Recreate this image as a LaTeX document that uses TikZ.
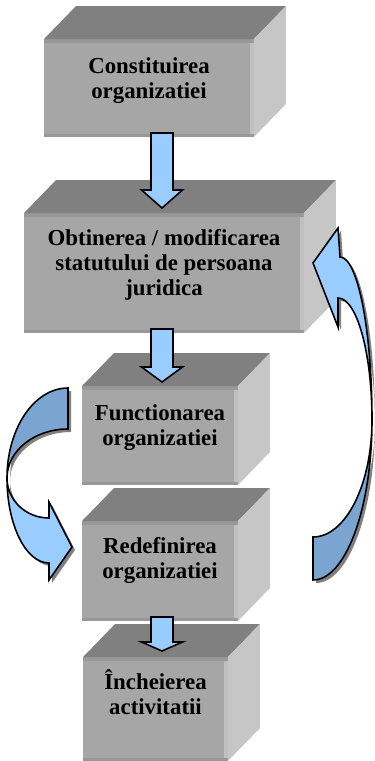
\documentclass[tikz,border=0pt]{standalone}
\usepackage{fontspec}
\setmainfont{Liberation Serif}
\usetikzlibrary{calc}

\definecolor{gsus}{RGB}{128,128,128}
\definecolor{gfata}{RGB}{166,166,166}
\definecolor{glateral}{RGB}{198,198,198}
\definecolor{gmargine}{RGB}{152,152,152}
\definecolor{gluciu}{RGB}{192,192,192}
\definecolor{albastru}{RGB}{153,204,255}
\definecolor{albastruinchis}{RGB}{122,165,208}
\definecolor{gumbra}{RGB}{128,128,128}

\tikzset{
  fata/.style={rectangle, inner sep=0pt, outer sep=0pt, fill=gfata,
    path picture={
      \fill[gmargine] (path picture bounding box.north west) rectangle ([yshift=-0.08cm]path picture bounding box.north east);
      \fill[gmargine] (path picture bounding box.south west) rectangle ([yshift=0.06cm]path picture bounding box.south east);
      \fill[gluciu] ([xshift=-0.07cm,yshift=-0.08cm]path picture bounding box.north east) rectangle ([yshift=0.06cm]path picture bounding box.south east);
    }},
  sus/.style={fill=gsus},
  lateral/.style={fill=glateral},
  eticheta/.style={anchor=base, align=center, inner sep=0pt, font=\bfseries\fontsize{13}{14}\selectfont},
  bloc/.style={draw=black, fill=albastru, line width=0.9pt, line join=miter},
  spate/.style={draw=black, fill=albastruinchis, line width=0.9pt},
  umbra/.style={fill=gumbra},
}

% fata de sus si fata laterala a unei cutii
\newcommand{\fete}[1]{%
  \fill[sus] (#1.north west) -- ++(32,-33) -- ($(#1.north east)+(32,-33)$) -- (#1.north east) -- cycle;
  \fill[lateral] (#1.north east) -- ++(32,-33) -- ($(#1.south east)+(32,-33)$) -- (#1.south east) -- cycle;}

% sageata in jos: #1 punct de plecare, #2 corp, #3 varf
\newcommand{\sageatajos}[3]{%
  \draw[bloc] ($#1+(-11,0)$) -- ++(0,#2) -- ++(-9.5,0) -- ++(20.5,#3) -- ++(20.5,-#3) -- ++(-9.5,0) -- ++(0,-#2) -- cycle;}

\newcommand{\contururstanga}{(68,429) -- (68,388) arc[start angle=270,end angle=180,x radius=61,y radius=90]
  arc[start angle=180,end angle=90,x radius=42,y radius=85] -- (49,580) -- (72,547) -- (49,502) -- (49,518)
  arc[start angle=90,end angle=180,x radius=42,y radius=40]
  arc[start angle=180,end angle=270,x radius=61,y radius=49] -- cycle}

\newcommand{\conturdreapta}{(313,537) -- (313,580) arc[start angle=90,end angle=0,x radius=59,y radius=160]
  arc[start angle=0,end angle=-90,x radius=32,y radius=163] -- (338,228) -- (313,263) -- (338,327) -- (338,298)
  arc[start angle=-90,end angle=0,x radius=34,y radius=122]
  arc[start angle=0,end angle=90,x radius=59,y radius=117] -- cycle}

\begin{document}
\begin{tikzpicture}[x=0.02cm,y=-0.02cm]
\useasboundingbox (0,0) rectangle (375,761);

% cutiile
\node[fata, minimum width=4.2cm, minimum height=1.96cm] (constituire) at (149,88) {};
\node[fata, minimum width=5.6cm, minimum height=2.4cm] (statut) at (164,273) {};
\node[fata, minimum width=3.12cm, minimum height=1.98cm] (functionare) at (160,435.5) {};
\node[fata, minimum width=3.12cm, minimum height=2cm] (redefinire) at (160,571) {};
\node[fata, minimum width=2.9cm, minimum height=2.08cm] (incheiere) at (155.5,709) {};

\foreach \c in {constituire,statut,functionare,redefinire,incheiere}
  \fete{\c};

% textele (ancora pe ultimul rand)
\node[eticheta] at ($(constituire.north)+(0,59)$) {Constituirea\\organizatiei};
\node[eticheta] at ($(statut.north)+(0,82)$) {Obtinerea / modificarea\\statutului de persoana\\juridica};
\node[eticheta] at ($(functionare.north)+(0,59)$) {Functionarea\\organizatiei};
\node[eticheta] at ($(redefinire.north)+(0,57)$) {Redefinirea\\organizatiei};
\node[eticheta] at ($(incheiere.north)+(0,57)$) {Încheierea\\activitatii};

% sagetile drepte
\coordinate (ax) at (162,0);
\coordinate (s1) at ($(ax |- constituire.south)+(0,-4)$);
\coordinate (s2) at ($(ax |- statut.south)+(0,-4)$);
\coordinate (s3) at ($(ax |- redefinire.south)+(0,-4)$);
\sageatajos{(s1)}{57}{18}
\sageatajos{(s2)}{38}{15}
\sageatajos{(s3)}{25}{9}

% sageata curba din stanga
\fill[umbra, shift={(3,3)}] \contururstanga;
\draw[spate] (68,429) -- (68,388) arc[start angle=270,end angle=180,x radius=61,y radius=90]
  arc[start angle=180,end angle=270,x radius=61,y radius=49] -- cycle;
\draw[bloc] (7,478) arc[start angle=180,end angle=90,x radius=42,y radius=85] -- (49,580) -- (72,547) -- (49,502) -- (49,518)
  arc[start angle=90,end angle=180,x radius=42,y radius=40] -- cycle;

% sageata curba din dreapta
\fill[umbra, shift={(3,3)}] \conturdreapta;
\draw[spate] (313,537) -- (313,580) arc[start angle=90,end angle=0,x radius=59,y radius=160]
  arc[start angle=0,end angle=90,x radius=59,y radius=117] -- cycle;
\draw[bloc] (372,420) arc[start angle=0,end angle=-90,x radius=32,y radius=163] -- (338,228) -- (313,263) -- (338,327) -- (338,298)
  arc[start angle=-90,end angle=0,x radius=34,y radius=122] -- cycle;

\end{tikzpicture}
\end{document}
